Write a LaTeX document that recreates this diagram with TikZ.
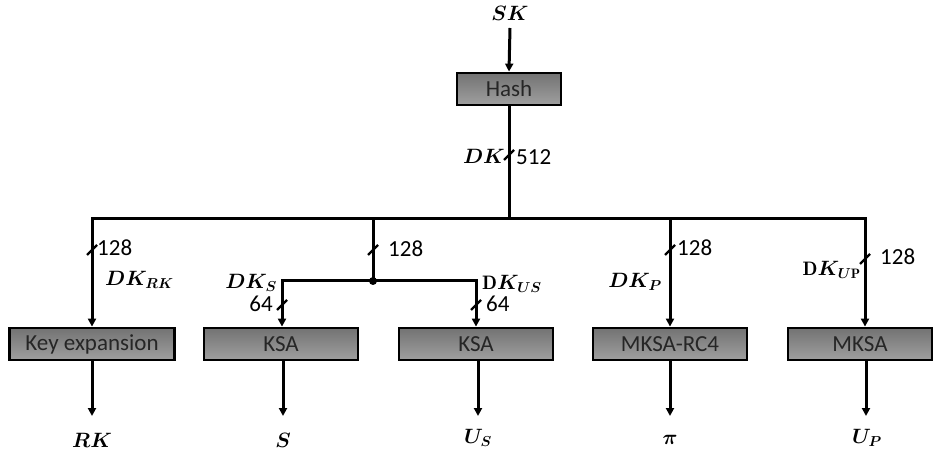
\documentclass[tikz,border=0pt]{standalone}
\usepackage{fontspec}
\setsansfont{Carlito}
\usepackage{amsmath,bm}
\usetikzlibrary{arrows.meta}
\begin{document}
\begin{tikzpicture}[x=1pt,y=-1pt,
  blk/.style={draw=black,line width=2.8pt,top color=gray!90!black,bottom color=gray!75,
    font=\sffamily\fontsize{23}{26}\selectfont,text=black!85,inner sep=0pt,minimum height=32pt},
  wire/.style={line width=3pt},
  arr/.style={line width=3pt,-{Triangle[length=8pt,width=8pt]}},
  lab/.style={font=\fontsize{19.5}{23}\selectfont,inner sep=0pt},
  num/.style={font=\sffamily\fontsize{23}{26}\selectfont,inner sep=0pt},
  slash/.style={line width=2.2pt}]
\useasboundingbox (0,0) rectangle (935,457);
% top
\node[lab] (sk) at (510,13) {$\bm{SK}$};
\node[blk,minimum width=104pt] (hash) at (509,89) {Hash};
\draw[arr] (sk.south |- 0,28) -- (hash.north);
% bus
\coordinate (bj) at (509,219);
\coordinate (b1) at (92,219);
\coordinate (b2) at (373,219);
\coordinate (b3) at (670,219);
\coordinate (b4) at (865,219);
\draw[wire] (hash.south) -- (bj);
\draw[wire,line cap=rect] (b1) -- (b4);
\draw[slash] (504,160) -- (514,150);
\node[lab,anchor=east] (dk) at (505,156) {$\bm{DK}$};
\node[num,anchor=west] (n512) at (516,157) {512};
% boxes
\node[blk,minimum width=165pt] (ke) at (92,344) {Key expansion};
\node[blk,minimum width=154pt] (ksa1) at (281,344) {KSA};
\node[blk,minimum width=154pt] (ksa2) at (476,344) {KSA};
\node[blk,minimum width=154pt] (rc4) at (670,344) {MKSA-RC4};
\node[blk,minimum width=144pt] (mksa) at (860,344) {MKSA};
% branches
\draw[arr] (b1) -- (ke.north -| b1);
\draw[arr] (b3) -- (rc4.north -| b3);
\draw[arr] (b4) -- (mksa.north -| b4);
\coordinate (mj) at (373,281);
\coordinate (ml) at (282,281);
\coordinate (mr) at (476,281);
\draw[wire] (b2) -- (mj);
\draw[arr] (mj) -- (ml) -- (ksa1.north -| ml);
\draw[arr] (mj) -- (mr) -- (ksa2.north -| mr);
\fill (mj) circle (4pt);
% slashes and labels
\draw[slash] (87,255) -- (97,245);
\node[num,anchor=west] (l1) at (97,248) {128};
\node[lab,anchor=west] (dkrk) at (105,280) {$\bm{DK}_{\bm{RK}}$};
\draw[slash] (368,255) -- (378,245);
\node[num,anchor=west] (l2) at (388,249) {128};
\draw[slash] (277,310) -- (287,300);
\node[num,anchor=east] (l3) at (273,304) {64};
\node[lab,anchor=east] (dks) at (277,283) {$\bm{DK}_{\bm{S}}$};
\draw[slash] (471,310) -- (481,300);
\node[num,anchor=west] (l4) at (486,304) {64};
\node[lab,anchor=west] (dkus) at (482,284) {$\mathbf{D}\bm{K}_{\bm{US}}$};
\draw[slash] (665,255) -- (675,245);
\node[num,anchor=west] (l5) at (677,248) {128};
\node[lab,anchor=east] (dkp) at (662,282) {$\bm{DK}_{\bm{P}}$};
\draw[slash] (860,264) -- (870,254);
\node[num,anchor=west] (l6) at (880,257) {128};
\node[lab,anchor=east] (dkup) at (861,270) {$\mathbf{D}\bm{K}_{\bm{U}\mathbf{P}}$};
% outputs
\node[lab] (rk) at (92,440) {$\bm{RK}$};
\node[lab] (s) at (283,440) {$\bm{S}$};
\node[lab] (us) at (478,438) {$\bm{U_S}$};
\node[lab] (pi) at (670,440) {$\bm{\pi}$};
\node[lab] (up) at (867,438) {$\bm{U_P}$};
\draw[arr] (ke.south) -- (ke.south |- 0,416);
\draw[arr] (ksa1.south -| 283,0) -- (283,416);
\draw[arr] (ksa2.south -| 478,0) -- (478,416);
\draw[arr] (rc4.south) -- (rc4.south |- 0,416);
\draw[arr] (mksa.south -| 866,0) -- (866,416);
\end{tikzpicture}
\end{document}
